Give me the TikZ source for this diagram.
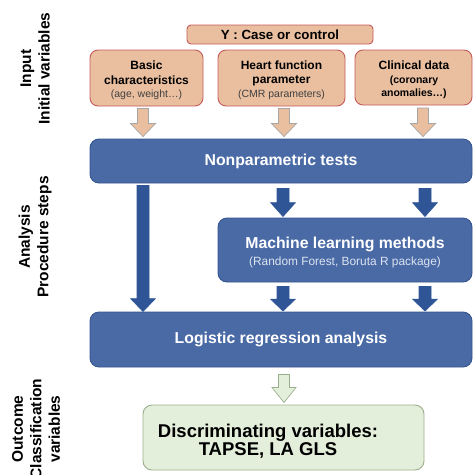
\documentclass[tikz,border=0pt]{standalone}
\usepackage{fontspec}
\setmainfont{Liberation Sans}
\usetikzlibrary{calc}

\definecolor{peachfill}{HTML}{EABFA0}
\definecolor{peachline}{HTML}{C55A5A}
\definecolor{peacharrow}{HTML}{A6A6A6}
\definecolor{bluefill}{HTML}{4A6AA6}
\definecolor{blueline}{HTML}{34558F}
\definecolor{bluearrow}{HTML}{2F5597}
\definecolor{greenfill}{HTML}{E3EFDA}
\definecolor{greenline}{HTML}{9BAE8C}
\definecolor{subgray}{HTML}{404040}
\definecolor{sublight}{HTML}{DCE3EF}

% block arrow: style, x, source anchor, target anchor, shaft half width,
% head half width, head length, gap at top, gap at tip
\newcommand\blockarrow[9]{%
  \draw[#1] let \p1=(#3), \p2=(#4) in
    ({#2pt-#5pt},{\y1-#8pt}) -- ({#2pt+#5pt},{\y1-#8pt})
    -- ({#2pt+#5pt},{\y2+#9pt+#7pt}) -- ({#2pt+#6pt},{\y2+#9pt+#7pt})
    -- (#2pt,{\y2+#9pt}) -- ({#2pt-#6pt},{\y2+#9pt+#7pt})
    -- ({#2pt-#5pt},{\y2+#9pt+#7pt}) -- cycle;}

\newcommand\fs[2]{\fontsize{#1}{#2}\selectfont}

\begin{document}
\begin{tikzpicture}[x=1pt,y=-1pt,
  inputbox/.style={draw=peachline, line width=0.9pt, fill=peachfill,
    rounded corners=8pt, inner sep=0pt},
  inputtext/.style={align=center, inner sep=0pt, font=\fs{12}{14.5}\bfseries},
  stepbox/.style={draw=blueline, line width=0.9pt, fill=bluefill,
    rounded corners=9pt, text=white, align=center, inner sep=0pt,
    minimum width=382pt},
  outbox/.style={draw=greenline, line width=0.9pt, fill=greenfill,
    rounded corners=9pt, inner sep=0pt},
  sidelabel/.style={rotate=90, align=center, font=\fs{15.5}{18.5}\bfseries},
  peachar/.style={fill=peachfill, draw=peacharrow, line width=0.7pt},
  bluear/.style={fill=bluearrow, draw=bluearrow, line width=0.6pt},
  greenar/.style={fill=greenfill, draw=greenline, line width=0.7pt}]

\useasboundingbox (0,0) rectangle (473,475);

% side labels
\node[sidelabel] (lin) at (35,68.5) {Input\\Initial variables};
\node[sidelabel] (lan) at (35,237) {Analysis\\Procedure steps};
\node[sidelabel] (lout) at (36,429) {Outcome\\Classification\\variables};

% inputs
\node[inputbox, minimum width=186pt, minimum height=19pt, rounded corners=4pt,
  font=\fs{13.3}{15}\bfseries] (y) at (280,34.5) {Y : Case or control};
\node[inputbox, minimum width=113pt, minimum height=56pt] (basic) at (146.5,78) {};
\node[inputbox, minimum width=127pt, minimum height=56pt] (heart) at (281.5,78) {};
\node[inputbox, minimum width=117pt, minimum height=55pt] (clin) at (413.5,77.5) {};

\node[inputtext] (basictext) at (146.5,80.5)
  {Basic\\characteristics\\[-1pt]
   {\fs{10.5}{12.5}\mdseries\color{subgray}(age, weight\ldots)}};
\node[inputtext] (hearttext) at (281.5,80)
  {Heart function\\parameter\\[-1pt]
   {\fs{10.5}{12.5}\mdseries\color{subgray}(CMR parameters)}};
\node[inputtext] (clintext) at (414,79.5)
  {Clinical data\\[-0.5pt]{\fs{10.5}{12.5}(coronary}\\[-2pt]
   {\fs{10.5}{12.5}anomalies\ldots)}};

% analysis steps
\node[stepbox, minimum height=44pt, font=\fs{15.8}{18}\bfseries] (np) at (281,161)
  {\raisebox{-1.5pt}{Nonparametric tests}};
\node[stepbox, minimum width=254pt, minimum height=64pt] (ml) at (345,250) {};
\node[align=center, inner sep=0pt, text=white, font=\fs{15.8}{17}\bfseries]
  (mltext) at (345,253)
  {Machine learning methods\\
   {\fs{11.9}{14}\mdseries\color{sublight}(Random Forest, Boruta R package)}};
\node[stepbox, minimum height=55pt, font=\fs{15.8}{18}\bfseries] (lr) at (281,339.5)
  {\raisebox{-1pt}{Logistic regression analysis}};

% outcome
\node[outbox, minimum width=281pt, minimum height=65pt] (out) at (283.5,437.5) {};
\node[align=center, font=\fs{18.5}{18.5}\bfseries, inner sep=0pt] (outtext) at (268,441)
  {Discriminating variables:\\TAPSE, LA GLS};

% connectors
\blockarrow{peachar}{143}{basic.south}{np.north}{5.5}{12.5}{13}{2}{2}
\blockarrow{peachar}{284}{heart.south}{np.north}{5.5}{12.5}{13}{2}{2}
\blockarrow{peachar}{423}{clin.south}{np.north}{5.5}{12.5}{13}{2.5}{2}

\blockarrow{bluear}{143}{np.south}{lr.north}{6}{12.5}{13}{2}{0}
\blockarrow{bluear}{283}{np.south}{ml.north}{6}{12.5}{14}{5}{1}
\blockarrow{bluear}{425}{np.south}{ml.north}{6}{12.5}{14}{5}{1}
\blockarrow{bluear}{283}{ml.south}{lr.north}{6}{12.5}{12}{4}{0.5}
\blockarrow{bluear}{425}{ml.south}{lr.north}{6}{12.5}{12}{4}{0.5}

\blockarrow{greenar}{284}{lr.south}{out.north}{5.5}{12}{15}{7}{2}
\end{tikzpicture}
\end{document}
